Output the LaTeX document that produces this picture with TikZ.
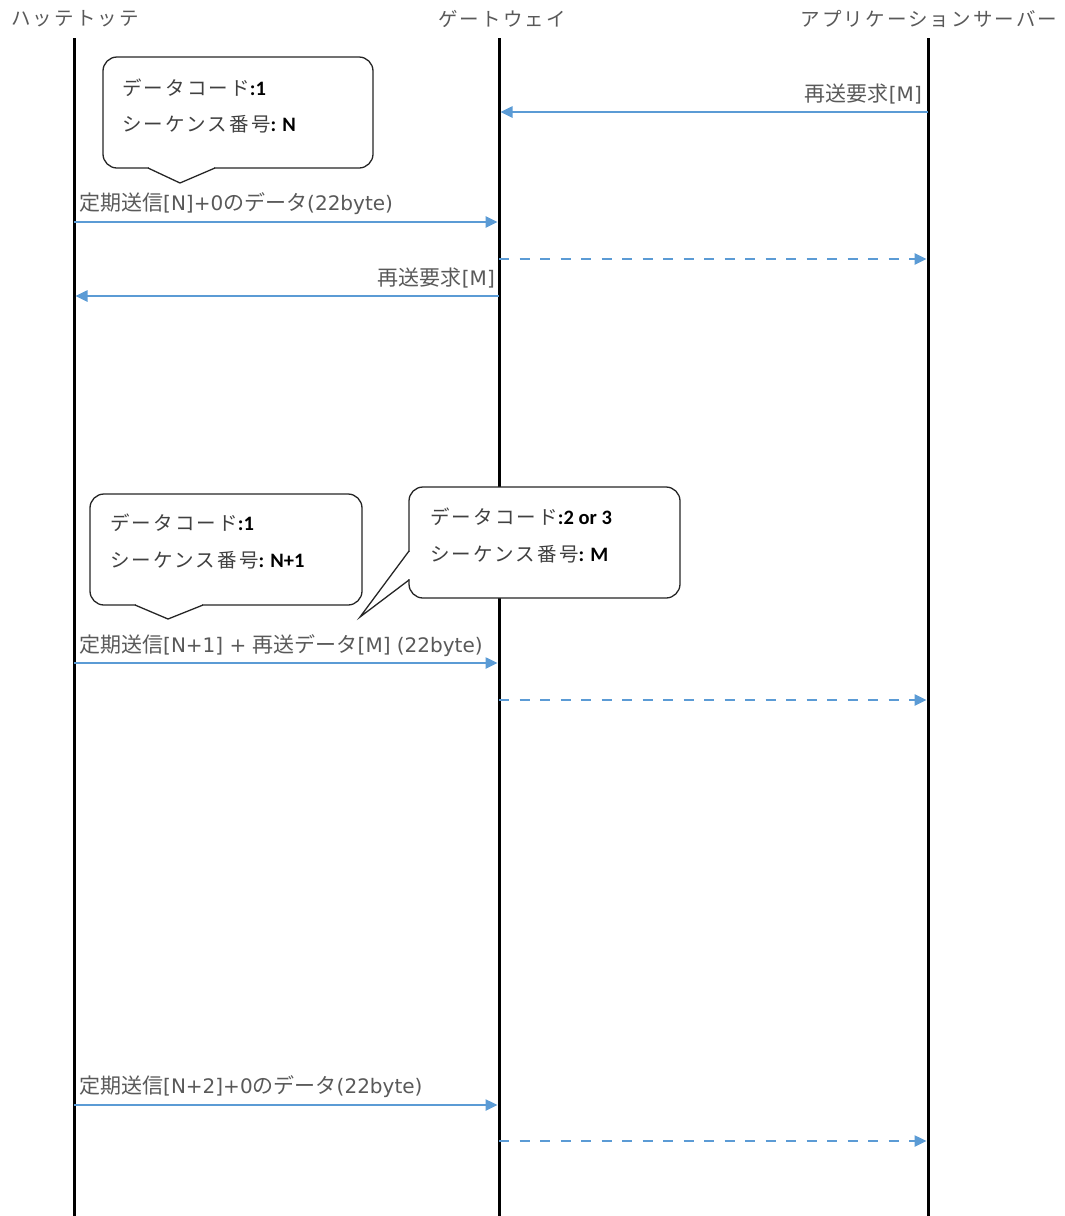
\documentclass[tikz,border=0pt]{standalone}
\usepackage{fontspec}
\setmainfont{Noto Sans CJK JP}
\newfontfamily\latb{Carlito}
\newfontfamily\latfont{DejaVu Sans}
\newfontfamily\spacedcjk[LetterSpace=11]{Noto Sans CJK JP}
\usetikzlibrary{arrows.meta}
\definecolor{arrowblue}{HTML}{5B9BD5}
\definecolor{labgray}{HTML}{595959}
\definecolor{txtgray}{HTML}{404040}
\tikzset{
  lifeline/.style={line width=3pt, black},
  msg/.style={line width=2.5pt, arrowblue, -{Triangle[length=12pt,width=11pt]}},
  fwd/.style={msg, dash pattern=on 10pt off 10.5pt},
  lab/.style={inner sep=0pt, text=labgray, font=\fontsize{21}{24}\selectfont},
  hdr/.style={inner sep=0pt, text=labgray, font=\spacedcjk\fontsize{19.5}{22}\selectfont},
  ctext/.style={inner sep=0pt, anchor=west, text=txtgray, font=\spacedcjk\fontsize{19.5}{22}\selectfont},
  cbox/.style={draw=black!85, line width=1.3pt, fill=white, rounded corners=14pt},
  cptr/.style={draw=black!85, line width=1.3pt},
}
\newcommand{\bnum}[1]{{\latb\bfseries\color{black}\fontsize{20.5}{22}\selectfont #1}}
\newcommand{\lt}[1]{{\latfont\fontsize{20}{24}\selectfont #1}}
\begin{document}
\begin{tikzpicture}[x=1pt,y=-1pt]
\useasboundingbox (0,0) rectangle (1065,1216);
% headers
\node[hdr] (hH) at (75,19) {ハッテトッテ};
\node[hdr] (hG) at (502,19) {ゲートウェイ};
\node[hdr] (hA) at (929,19) {アプリケーションサーバー};
% lifelines
\coordinate (hTop) at (74,38);   \coordinate (hBot) at (74,1216);
\coordinate (gTop) at (499,38);  \coordinate (gBot) at (499,1216);
\coordinate (aTop) at (928,38);  \coordinate (aBot) at (928,1216);
\draw[lifeline] (hTop) -- (hBot);
\draw[lifeline] (gTop) -- (gBot);
\draw[lifeline] (aTop) -- (aBot);
% message points
\coordinate (a1) at (928,112); \coordinate (g1) at (500.5,112);
\coordinate (h2) at (74,222);  \coordinate (g2) at (497.5,222);
\coordinate (g3) at (499,259); \coordinate (a3) at (926.5,259);
\coordinate (g4) at (499,296); \coordinate (h4) at (75.5,296);
\coordinate (h5) at (74,663);  \coordinate (g5) at (497.5,663);
\coordinate (g6) at (499,700); \coordinate (a6) at (926.5,700);
\coordinate (h7) at (74,1105); \coordinate (g7) at (497.5,1105);
\coordinate (g8) at (499,1141); \coordinate (a8) at (926.5,1141);
% messages
\draw[msg] (a1) -- (g1);
\node[lab, anchor=east] (l1) at (922,94) {再送要求\lt{[M]}};
\draw[msg] (h2) -- (g2);
\node[lab, anchor=west] (l2) at (79,204) {定期送信\lt{[N]+0}のデータ\lt{(22byte)}};
\draw[fwd] (g3) -- (a3);
\draw[msg] (g4) -- (h4);
\node[lab, anchor=east] (l4) at (495,278) {再送要求\lt{[M]}};
\draw[msg] (h5) -- (g5);
\node[lab, anchor=west] (l5) at (79,646) {定期送信\lt{[N+1] + }再送データ\lt{[M] (22byte)}};
\draw[fwd] (g6) -- (a6);
\draw[msg] (h7) -- (g7);
\node[lab, anchor=west] (l7) at (79,1087) {定期送信\lt{[N+2]+0}のデータ\lt{(22byte)}};
\draw[fwd] (g8) -- (a8);
% callout A
\draw[cbox] (103,57) rectangle (373,168);
\fill[white] (149,166) rectangle (214,170);
\draw[cptr] (148,168) -- (180,183) -- (215,168);
\node[ctext] (cA1) at (122,88) {データコード\bnum{:1}};
\node[ctext] (cA2) at (122,124) {シーケンス番号\bnum{: N}};
% callout B
\draw[cbox] (90,494) rectangle (362,605);
\fill[white] (136,603) rectangle (202,607);
\draw[cptr] (135,605) -- (168,619) -- (203,605);
\node[ctext] (cB1) at (110,523) {データコード\bnum{:1}};
\node[ctext] (cB2) at (110,560) {シーケンス番号\bnum{: N+1}};
% callout C
\draw[cbox] (409,487) rectangle (680,598);
\fill[white] (407,552) rectangle (411,579);
\draw[cptr] (409,551) -- (360,617) -- (409,580);
\node[ctext] (cC1) at (430,517) {データコード\bnum{:2 or 3}};
\node[ctext] (cC2) at (430,554) {シーケンス番号\bnum{: M}};
\end{tikzpicture}
\end{document}
